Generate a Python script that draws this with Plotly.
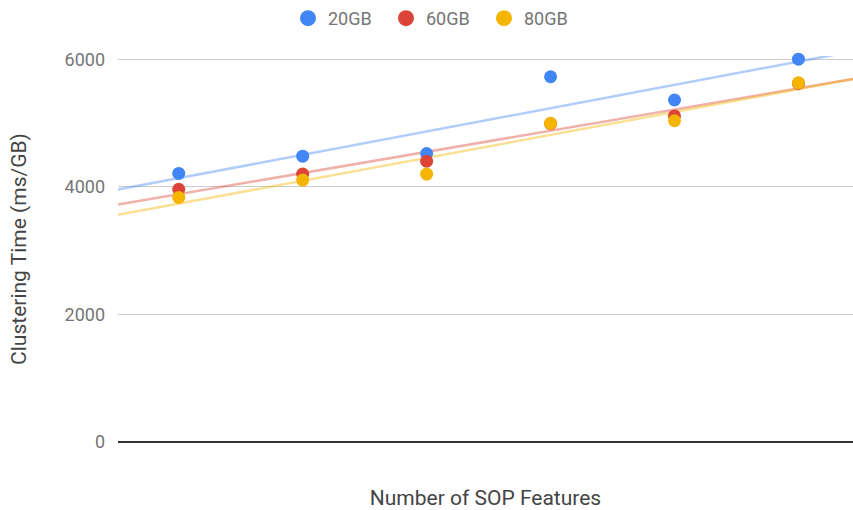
import numpy as np
import plotly.graph_objects as go

x_vals = [1, 2, 3, 4, 5, 6]
series_names = ["20GB", "60GB", "80GB"]
gb20 = [4210, 4480, 4520, 5725, 5360, 6000]
gb60 = [3960, 4200, 4400, 4990, 5110, 5620]
gb80 = [3834, 4106, 4200, 4994, 5035, 5630]
colors = ["#4285F4", "#DB4437", "#F4B400"]
trend_colors = ["rgba(66,133,244,0.42)", "rgba(219,68,55,0.42)", "rgba(244,180,0,0.42)"]
y_ticks = [0, 2000, 4000, 6000]

x_range = [0.51, 6.44]
y_range = [0, 6050]

fig = go.Figure()
for name, ys, c, tc in zip(series_names, [gb20, gb60, gb80], colors, trend_colors):
    slope, intercept = np.polyfit(x_vals, ys, 1)
    tx = np.array(x_range)
    fig.add_trace(go.Scatter(x=tx, y=slope * tx + intercept, mode="lines",
                             line=dict(color=tc, width=2.5), showlegend=False,
                             hoverinfo="skip"))
for name, ys, c in zip(series_names, [gb20, gb60, gb80], colors):
    fig.add_trace(go.Scatter(x=x_vals, y=ys, mode="markers", name=name,
                             marker=dict(color=c, size=13), cliponaxis=False,
                             showlegend=False))
# legend entries (larger symbols, as in the reference)
for name, c in zip(series_names, colors):
    fig.add_trace(go.Scatter(x=[None], y=[None], mode="markers", name=name,
                             marker=dict(color=c, size=16)))

fig.update_layout(
    width=853, height=510,
    margin=dict(l=118, r=0, t=56, b=68),
    paper_bgcolor="white", plot_bgcolor="white",
    font=dict(family="Roboto", color="#757575", size=18),
    legend=dict(orientation="h", x=(288 - 118) / 735, xref="paper", xanchor="left",
                y=1.0, yanchor="top", yref="container",
                font=dict(size=18, color="#757575"),
                entrywidth=53, entrywidthmode="pixels", itemsizing="trace"),
    xaxis=dict(range=x_range, showticklabels=False, showgrid=False, zeroline=False,
               automargin=False,
               title=dict(text="Number of SOP Features", font=dict(size=21, color="#444"),
                          standoff=49)),
    yaxis=dict(range=y_range, tickvals=y_ticks, gridcolor="#cccccc", gridwidth=1,
               zeroline=True, zerolinecolor="#333333", zerolinewidth=1.5,
               ticks="", ticklabelstandoff=12, automargin=False,
               tickfont=dict(size=18, color="#757575"),
               title=dict(text="Clustering Time (ms/GB)", font=dict(size=21, color="#444"),
                          standoff=32)),
)
fig.write_html("out.html", config={"displayModeBar": False},
               post_script="document.body.style.margin='0';document.body.style.overflow='hidden';")
